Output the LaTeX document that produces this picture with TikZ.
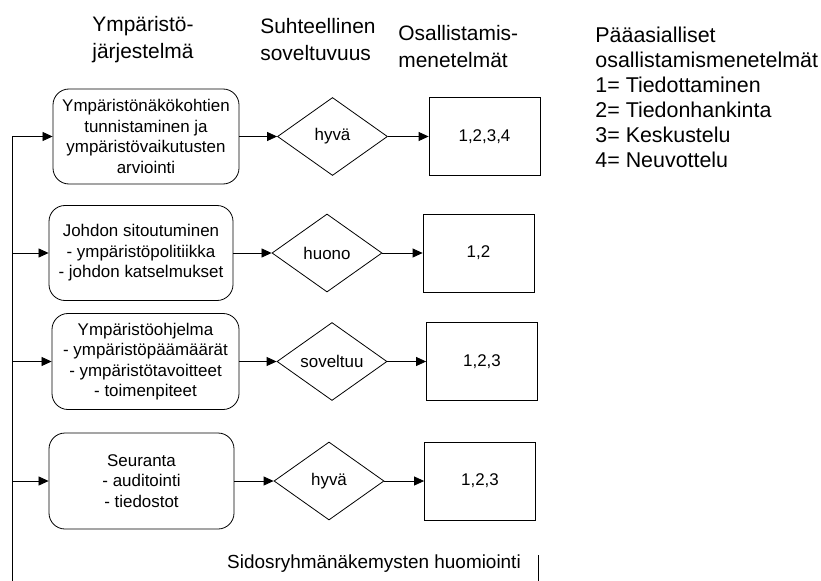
\documentclass[tikz,border=0pt]{standalone}
\usepackage{fontspec}
\setmainfont{Liberation Sans}
\usetikzlibrary{shapes.geometric,arrows.meta}

\begin{document}
\begin{tikzpicture}[x=1bp,y=-1bp,line width=0.8bp,
    vaihe/.style={draw,rounded corners=16bp,align=center,inner sep=0pt,font=\fontsize{17}{20.5}\selectfont},
    arvio/.style={draw,diamond,aspect=1.4,minimum width=110bp,minimum height=78bp,inner sep=0pt,font=\fontsize{17}{20.5}\selectfont},
    menet/.style={draw,minimum width=111bp,minimum height=78bp,inner sep=0pt,font=\fontsize{17}{20.5}\selectfont},
    otsikko/.style={align=left,inner sep=0pt,anchor=west,font=\fontsize{21}{27}\selectfont},
    nuoli/.style={-{Triangle[length=10bp,width=9bp]}}]
    \useasboundingbox (0,0) rectangle (821,581);

    \node[otsikko](h1)at(92,39.5){Ympäristö-\\järjestelmä};
    \node[otsikko](h2)at(260,39.5){Suhteellinen\\soveltuvuus};
    \node[otsikko](h3)at(398,46.5){Osallistamis-\\menetelmät};
    \node[otsikko,font=\fontsize{21.5}{25}\selectfont](selite)at(595,97.5){Pääasialliset\\osallistamismenetelmät\\1= Tiedottaminen\\2= Tiedonhankinta\\3= Keskustelu\\4= Neuvottelu};

    \node[vaihe,minimum width=186bp,minimum height=95bp](v1)at(146,136.5){Ympäristönäkökohtien\\tunnistaminen ja\\ympäristövaikutusten\\arviointi};
    \node[arvio](a1)at(332.5,136.5){hyvä};
    \node[menet](m1)at(484.5,136.5){1,2,3,4};

    \node[vaihe,minimum width=184bp,minimum height=95bp](v2)at(141,253){Johdon sitoutuminen\\- ympäristöpolitiikka\\- johdon katselmukset};
    \node[arvio](a2)at(327,253){huono};
    \node[menet](m2)at(478.5,253){1,2};

    \node[vaihe,minimum width=187bp,minimum height=96bp](v3)at(145.5,361.5){Ympäristöohjelma\\- ympäristöpäämäärät\\- ympäristötavoitteet\\- toimenpiteet};
    \node[arvio](a3)at(332,361.5){soveltuu};
    \node[menet](m3)at(482,361.5){1,2,3};

    \node[vaihe,minimum width=185bp,minimum height=96bp](v4)at(141.5,481){Seuranta\\- auditointi\\- tiedostot};
    \node[arvio](a4)at(329,481){hyvä};
    \node[menet](m4)at(480,481){1,2,3};

    \node[inner sep=0pt,font=\fontsize{19}{23}\selectfont](sidos)at(374,564){Sidosryhmänäkemysten huomiointi};

    \coordinate(runko)at(12,581);
    \coordinate(palaute)at(538,581);
    \draw(runko)--(runko |- v1.west);
    \foreach \i in {1,...,4}{
        \draw[nuoli](runko |- v\i.west)--(v\i.west);
        \draw[nuoli](v\i)--(a\i);
        \draw[nuoli](a\i)--(m\i);
    }
    \draw(palaute)--(palaute |- sidos.north);
\end{tikzpicture}
\end{document}
